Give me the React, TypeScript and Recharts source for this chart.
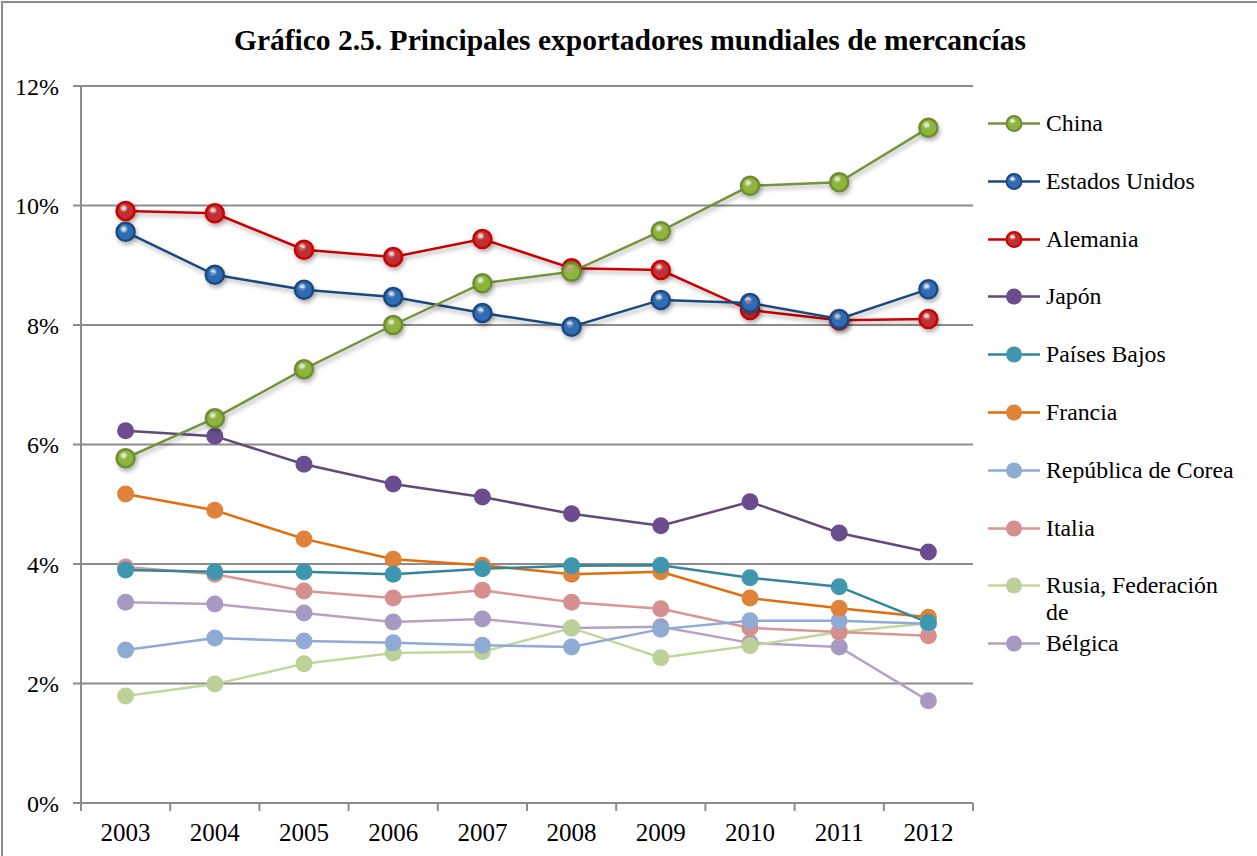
import React from 'react';
import { LineChart, Line, XAxis, YAxis, CartesianGrid } from 'recharts';

const years = ['2003', '2004', '2005', '2006', '2007', '2008', '2009', '2010', '2011', '2012'];

const china = [5.77, 6.44, 7.26, 8.0, 8.70, 8.89, 9.57, 10.33, 10.39, 11.30];
const estadosUnidos = [9.56, 8.84, 8.59, 8.47, 8.20, 7.97, 8.42, 8.37, 8.10, 8.60];
const alemania = [9.91, 9.87, 9.26, 9.14, 9.44, 8.95, 8.92, 8.25, 8.08, 8.10];
const japon = [6.23, 6.14, 5.67, 5.34, 5.12, 4.84, 4.64, 5.04, 4.52, 4.20];
const paisesBajos = [3.90, 3.87, 3.87, 3.83, 3.92, 3.97, 3.98, 3.77, 3.62, 3.02];
const francia = [5.17, 4.90, 4.42, 4.08, 3.98, 3.83, 3.87, 3.43, 3.26, 3.11];
const corea = [2.56, 2.76, 2.71, 2.68, 2.64, 2.61, 2.91, 3.05, 3.05, 3.0];
const italia = [3.95, 3.83, 3.55, 3.43, 3.56, 3.36, 3.25, 2.93, 2.86, 2.80];
const rusia = [1.79, 1.99, 2.33, 2.51, 2.53, 2.93, 2.43, 2.63, 2.86, 3.01];
const belgica = [3.36, 3.33, 3.18, 3.03, 3.08, 2.93, 2.95, 2.68, 2.61, 1.71];

const yTicks = [0, 2, 4, 6, 8, 10, 12];

const series = [
  { key: 'china', name: 'China', values: china, line: '#77933C', fill: '#8DB43A', stroke: '#6E8B34', big: true },
  { key: 'eeuu', name: 'Estados Unidos', values: estadosUnidos, line: '#1F497D', fill: '#2F6DB5', stroke: '#1F497D', big: true },
  { key: 'alemania', name: 'Alemania', values: alemania, line: '#CC0000', fill: '#BE3035', stroke: '#CC0000', big: true },
  { key: 'japon', name: 'Japón', values: japon, line: '#604A7B', fill: '#6A4C8F', stroke: '#6A4C8F', big: false },
  { key: 'paises', name: 'Países Bajos', values: paisesBajos, line: '#31859C', fill: '#3E97AE', stroke: '#3E97AE', big: false },
  { key: 'francia', name: 'Francia', values: francia, line: '#E46C0A', fill: '#E0833A', stroke: '#E0833A', big: false },
  { key: 'corea', name: 'República de Corea', values: corea, line: '#8EAAD6', fill: '#8FAAD3', stroke: '#8FAAD3', big: false },
  { key: 'italia', name: 'Italia', values: italia, line: '#D99694', fill: '#D48F8E', stroke: '#D48F8E', big: false },
  { key: 'rusia', name: 'Rusia, Federación de', values: rusia, line: '#C3D69B', fill: '#BCD097', stroke: '#BCD097', big: false },
  { key: 'belgica', name: 'Bélgica', values: belgica, line: '#B3A2C7', fill: '#A899C3', stroke: '#A899C3', big: false },
];

const data = years.map((year, i) => {
  const row: Record<string, any> = { year };
  series.forEach(s => { row[s.key] = s.values[i]; });
  return row;
});

const FONT = '"Liberation Serif", "Times New Roman", serif';
const CHART_W = 1257;
const CHART_H = 856;
const XAXIS_H = 30;
const MARGIN = { top: 86, right: 284, bottom: 53 - XAXIS_H, left: 0 };
const YAXIS_W = 81;
const BAND = (CHART_W - MARGIN.left - MARGIN.right - YAXIS_W) / years.length;
const AXIS_COLOR = '#8C8C8C';

const XTick = (props: any) => {
  const { x, y, payload, index } = props;
  const half = BAND / 2;
  return (
    <g>
      <line x1={x + half} x2={x + half} y1={y - 8} y2={y} stroke={AXIS_COLOR} strokeWidth={2} />
      {index === 0 && <line x1={x - half} x2={x - half} y1={y - 8} y2={y} stroke={AXIS_COLOR} strokeWidth={2} />}
      <text x={x} y={y + 30} textAnchor="middle" fontSize={25} fontFamily={FONT} fill="#000">
        {payload.value}
      </text>
    </g>
  );
};

const ChartLegend = () => (
  <div style={{ position: 'absolute', left: 985, top: 110, width: 270, height: 600, fontFamily: FONT }}>
    <svg width={0} height={0} style={{ position: 'absolute' }}>
      <defs>
        {series.filter(s => s.big).map(s => (
          <radialGradient key={s.key} id={`lgrad-${s.key}`} cx="40%" cy="35%" r="65%">
            <stop offset="0%" stopColor="#ffffff" stopOpacity={0.25} />
            <stop offset="35%" stopColor={s.fill} />
            <stop offset="100%" stopColor={s.fill} />
          </radialGradient>
        ))}
      </defs>
    </svg>
    {series.map((s, i) => (
      <div key={s.key} style={{ position: 'absolute', top: i * 57.8, left: 0, display: 'flex', alignItems: 'flex-start' }}>
        <svg width={61} height={27} style={{ flex: 'none' }}>
          <line x1={3} x2={55} y1={13.5} y2={13.5} stroke={s.line} strokeWidth={2.5} />
          <circle
            cx={29}
            cy={13.5}
            r={s.big ? 7.5 : 8}
            fill={s.big ? `url(#lgrad-${s.key})` : s.fill}
            stroke={s.big ? s.stroke : 'none'}
            strokeWidth={s.big ? 2 : 0}
          />
        </svg>
        <div style={{ width: 190, fontSize: 23.8, lineHeight: '27px', color: '#000', textAlign: 'left' }}>{s.name}</div>
      </div>
    ))}
  </div>
);

export default function App() {
  return (
    <div style={{ position: 'absolute', left: 0, top: 0, width: CHART_W, height: CHART_H, overflow: 'hidden', background: '#fff' }}>
      <div style={{ position: 'absolute', left: 1, top: 1, width: 1400, height: 1000, border: '2px solid #8C8C8C', boxSizing: 'border-box' }} />
      <div style={{ position: 'absolute', left: 0, top: 24, width: 1260, textAlign: 'center', fontFamily: FONT, fontWeight: 'bold', fontSize: 29.5, color: '#000' }}>
        Gráfico 2.5. Principales exportadores mundiales de mercancías
      </div>
      <LineChart width={CHART_W} height={CHART_H} data={data} margin={MARGIN} style={{ position: 'absolute', left: 0, top: 0 }}>
        <defs>
          {series.filter(s => s.big).map(s => (
            <radialGradient key={s.key} id={`grad-${s.key}`} cx="40%" cy="35%" r="65%">
              <stop offset="0%" stopColor="#ffffff" stopOpacity={0.25} />
              <stop offset="35%" stopColor={s.fill} />
              <stop offset="100%" stopColor={s.fill} />
            </radialGradient>
          ))}
          <filter id="shadow" x="-50%" y="-50%" width="200%" height="200%">
            <feDropShadow dx={1.5} dy={3} stdDeviation={2} floodColor="#000" floodOpacity={0.3} />
          </filter>
        </defs>
        <CartesianGrid vertical={false} stroke={AXIS_COLOR} strokeWidth={2} />
        <XAxis
          dataKey="year"
          scale="band"
          height={XAXIS_H}
          axisLine={{ stroke: AXIS_COLOR, strokeWidth: 2 }}
          tickLine={false}
          tick={<XTick />}
          interval={0}
        />
        <YAxis
          width={YAXIS_W}
          domain={[0, 12]}
          ticks={yTicks}
          interval={0}
          tickFormatter={(v: number) => `${v}%`}
          axisLine={{ stroke: AXIS_COLOR, strokeWidth: 2 }}
          tickLine={{ stroke: AXIS_COLOR, strokeWidth: 2 }}
          tickSize={8}
          tickMargin={14}
          tick={{ fill: '#000', fontSize: 24, fontFamily: FONT }}
        />
        {series.slice().reverse().map(s => (
          <Line
            key={s.key}
            type="linear"
            dataKey={s.key}
            name={s.name}
            stroke={s.line}
            strokeWidth={2.5}
            filter={s.big ? 'url(#shadow)' : undefined}
            dot={s.big
              ? { r: 9, fill: `url(#grad-${s.key})`, stroke: s.stroke, strokeWidth: 2.5 }
              : { r: 8.5, fill: s.fill, stroke: 'none', strokeWidth: 0 }}
            activeDot={false}
            isAnimationActive={false}
          />
        ))}
      </LineChart>
      <ChartLegend />
    </div>
  );
}
